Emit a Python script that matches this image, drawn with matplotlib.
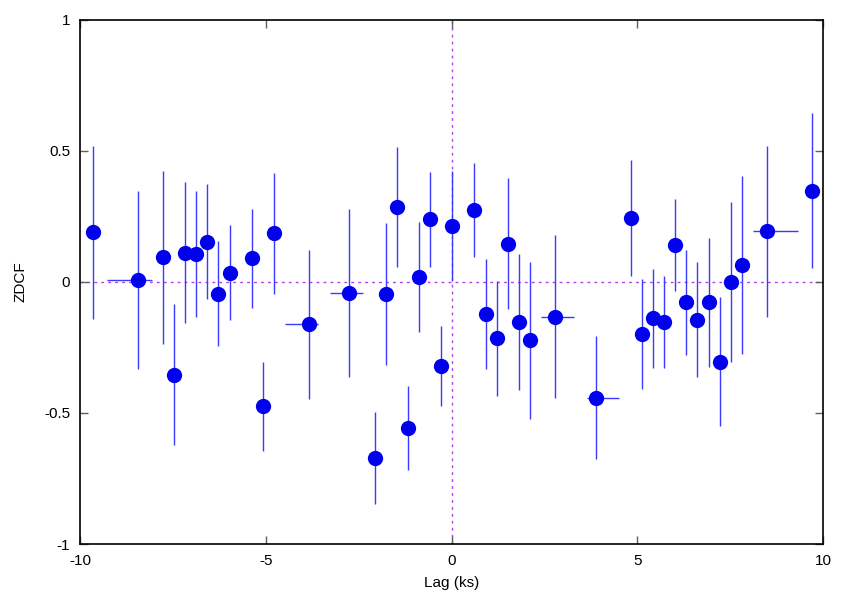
import numpy as np
import matplotlib.pyplot as plt

plt.rcParams['font.family'] = ['Liberation Sans', 'DejaVu Sans']

# lag (ks), asymmetric lag errors, ZDCF value and its error
lag = [-9.64, -8.45, -7.77, -7.47, -7.17, -6.87, -6.57, -6.28, -5.97, -5.37,
       -5.07, -4.77, -3.83, -2.75, -2.07, -1.77, -1.48, -1.17, -0.87, -0.57,
       -0.27, 0.02, 0.61, 0.92, 1.22, 1.53, 1.83, 2.12, 2.79, 3.88,
       4.82, 5.12, 5.42, 5.73, 6.02, 6.32, 6.62, 6.92, 7.22, 7.52,
       7.82, 8.50, 9.70]
lag_lo = [0.0, 0.82, 0.0, 0.0, 0.0, 0.0, 0.0, 0.0, 0.0, 0.0,
          0.0, 0.0, 0.64, 0.53, 0.0, 0.0, 0.0, 0.0, 0.0, 0.0,
          0.0, 0.0, 0.0, 0.0, 0.0, 0.0, 0.0, 0.0, 0.38, 0.22,
          0.0, 0.0, 0.0, 0.0, 0.0, 0.0, 0.0, 0.0, 0.0, 0.0,
          0.0, 0.38, 0.0]
lag_hi = [0.0, 0.39, 0.0, 0.0, 0.0, 0.0, 0.0, 0.0, 0.0, 0.0,
          0.0, 0.0, 0.24, 0.37, 0.0, 0.0, 0.0, 0.0, 0.0, 0.0,
          0.0, 0.0, 0.0, 0.0, 0.0, 0.0, 0.0, 0.0, 0.50, 0.64,
          0.0, 0.0, 0.0, 0.0, 0.0, 0.0, 0.0, 0.0, 0.0, 0.0,
          0.0, 0.82, 0.0]
zdcf = [0.190, 0.008, 0.094, -0.354, 0.112, 0.107, 0.154, -0.045, 0.036, 0.090,
        -0.474, 0.186, -0.162, -0.042, -0.672, -0.046, 0.286, -0.556, 0.020, 0.239,
        -0.322, 0.214, 0.276, -0.122, -0.215, 0.145, -0.153, -0.223, -0.132, -0.441,
        0.244, -0.200, -0.139, -0.154, 0.141, -0.078, -0.144, -0.078, -0.304, 0.001,
        0.064, 0.193, 0.348]
zerr = [0.33, 0.34, 0.33, 0.27, 0.27, 0.24, 0.22, 0.20, 0.18, 0.19,
        0.17, 0.23, 0.285, 0.32, 0.175, 0.27, 0.23, 0.16, 0.21, 0.18,
        0.153, 0.21, 0.18, 0.21, 0.22, 0.25, 0.26, 0.30, 0.31, 0.235,
        0.22, 0.21, 0.19, 0.175, 0.175, 0.20, 0.22, 0.245, 0.245, 0.305,
        0.34, 0.325, 0.296]

fig = plt.figure(figsize=(8.54, 5.98), dpi=100)
ax = fig.add_axes([0.0937, 0.0903, 0.8700, 0.8763])

ax.axhline(0, color='#b040f0', lw=1, dashes=(2, 3), zorder=1)
ax.axvline(0, color='#b040f0', lw=1, dashes=(2, 3), zorder=1)

ax.errorbar(lag, zdcf, yerr=zerr, xerr=[lag_lo, lag_hi], fmt='none',
            ecolor='#3a3aff', elinewidth=1, capsize=0, zorder=2)
ax.plot(lag, zdcf, 'o', color='#0000ee', markersize=11, markeredgewidth=0, zorder=3)

ax.set_xlim(-10, 10)
ax.set_ylim(-1, 1)
ax.set_xticks([-10, -5, 0, 5, 10])
ax.set_yticks([-1, -0.5, 0, 0.5, 1])
ax.set_yticklabels(['-1', '-0.5', '0', '0.5', '1'])
ax.set_xticklabels(['-10', '-5', '0', '5', '10'])
ax.tick_params(direction='in', length=6, width=1, color='#606060',
               top=True, right=True, labelsize=11, pad=7)
for s in ax.spines.values():
    s.set_linewidth(1.2)
    s.set_color('black')

ax.set_xlabel('Lag (ks)', fontsize=11, labelpad=6)
ax.set_ylabel('ZDCF', fontsize=11, labelpad=12)

fig.savefig('out.png', dpi=100)
